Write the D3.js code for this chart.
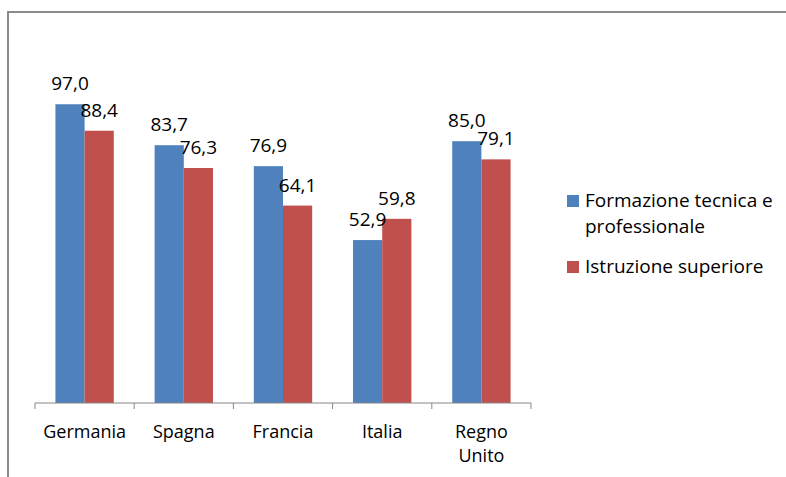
<!DOCTYPE html>
<html>
<head>
<meta charset="utf-8">
<script src="https://cdn.jsdelivr.net/npm/d3@7"></script>
<style>
  body { margin: 0; background: #fff; }
  text { font-family: "Open Sans", "Noto Sans", sans-serif; fill: #000; }
</style>
</head>
<body>
<div id="chart"></div>
<script>
// data
var categories = ["Germania", "Spagna", "Francia", "Italia", "Regno Unito"];
var series_names = ["Formazione tecnica e professionale", "Istruzione superiore"];
var tecnica = [97.0, 83.7, 76.9, 52.9, 85.0];
var superiore = [88.4, 76.3, 64.1, 59.8, 79.1];
var colors = ["#4F81BD", "#C0504D"];

var width = 786, height = 477;

var svg = d3.select("#chart").append("svg")
  .attr("width", width)
  .attr("height", height);

// chart frame (only top and left edges visible in the picture)
svg.append("path")
  .attr("d", "M8,478 L8,12 L787,12")
  .attr("fill", "none")
  .attr("stroke", "#8a8a8a")
  .attr("stroke-width", 2);

var x = d3.scaleBand()
  .domain(categories)
  .range([35, 531])
  .paddingInner(0)
  .paddingOuter(0);

var y = d3.scaleLinear()
  .domain([0, 100])
  .range([403, 95]);

var inner = d3.scaleBand()
  .domain([0, 1])
  .range([0, x.bandwidth()])
  .paddingOuter(0.7)
  .paddingInner(0);

var rows = [];
categories.forEach(function(c, i) {
  rows.push({ cat: c, s: 0, v: tecnica[i] });
  rows.push({ cat: c, s: 1, v: superiore[i] });
});

svg.selectAll("rect.bar")
  .data(rows)
  .enter().append("rect")
  .attr("class", "bar")
  .attr("x", function(d) { return x(d.cat) + inner(d.s); })
  .attr("width", inner.bandwidth())
  .attr("y", function(d) { return y(d.v); })
  .attr("height", function(d) { return y(0) - y(d.v); })
  .attr("fill", function(d) { return colors[d.s]; });

svg.selectAll("text.val")
  .data(rows)
  .enter().append("text")
  .attr("class", "val")
  .attr("x", function(d) { return x(d.cat) + inner(d.s) + inner.bandwidth() / 2; })
  .attr("y", function(d) { return y(d.v) - 14; })
  .attr("text-anchor", "middle")
  .style("font-size", "19px")
  .text(function(d) { return d.v.toFixed(1).replace(".", ","); });

// category axis
var axis = svg.append("g")
  .attr("transform", "translate(0," + y(0) + ")");

axis.append("line")
  .attr("x1", 35).attr("x2", 531)
  .attr("stroke", "#868686");

var edges = categories.map(function(c) { return x(c); }).concat([x.range()[1]]);
axis.selectAll("line.tick")
  .data(edges)
  .enter().append("line")
  .attr("class", "tick")
  .attr("x1", function(d) { return d; })
  .attr("x2", function(d) { return d; })
  .attr("y1", 0).attr("y2", 6)
  .attr("stroke", "#868686");

axis.selectAll("text.cat")
  .data(categories)
  .enter().append("text")
  .attr("class", "cat")
  .attr("x", function(d) { return x(d) + x.bandwidth() / 2; })
  .attr("y", 35)
  .attr("text-anchor", "middle")
  .style("font-size", "18px")
  .each(function(d) {
    var words = d.split(" ");
    var t = d3.select(this);
    words.forEach(function(w, i) {
      t.append("tspan")
        .attr("x", x(d) + x.bandwidth() / 2)
        .attr("dy", i === 0 ? 0 : 24)
        .text(w);
    });
  });

// legend
var legend = svg.append("g").attr("transform", "translate(567,195)");
var legendLines = [["Formazione tecnica e", "professionale"], ["Istruzione superiore"]];
var legendY = [0, 66];

legendLines.forEach(function(lines, i) {
  var g = legend.append("g").attr("transform", "translate(0," + legendY[i] + ")");
  g.append("rect")
    .attr("width", 12).attr("height", 12)
    .attr("fill", colors[i]);
  lines.forEach(function(l, j) {
    g.append("text")
      .attr("x", 18)
      .attr("y", 12 + j * 26)
      .style("font-size", "19px")
      .text(l);
  });
});
</script>
</body>
</html>
